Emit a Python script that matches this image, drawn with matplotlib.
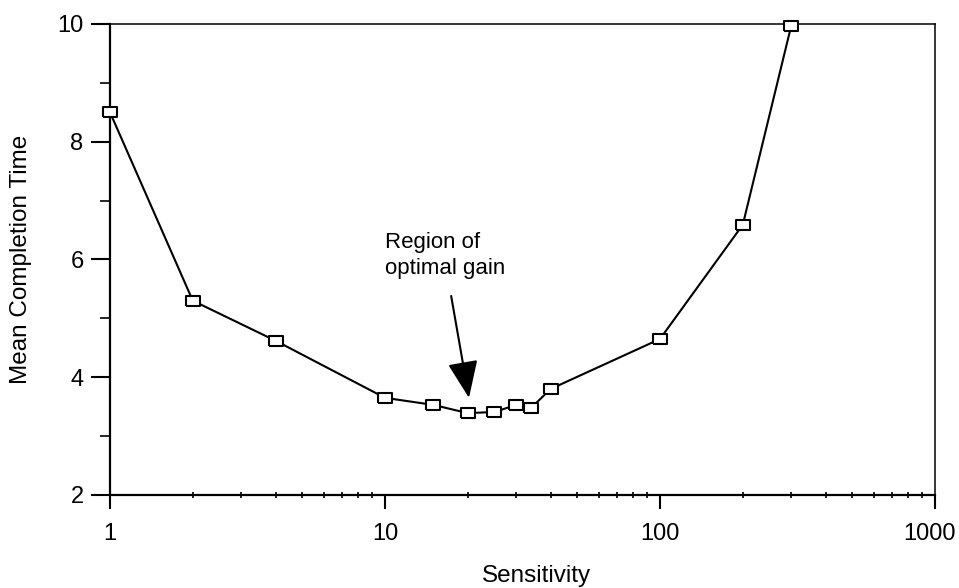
import matplotlib
matplotlib.use('Agg')
import matplotlib.pyplot as plt
from matplotlib.ticker import FixedLocator, NullFormatter
from matplotlib.transforms import ScaledTranslation

plt.rcParams['font.family'] = ['Liberation Sans', 'DejaVu Sans']

# values
sensitivity = [1, 2, 4, 10, 15, 20, 25, 30, 34, 40, 100, 200, 300]
completion_time = [8.5, 5.30, 4.62, 3.65, 3.53, 3.39, 3.41, 3.53, 3.48, 3.80, 4.65, 6.59, 9.97]
x_ticks = [1, 10, 100, 1000]
x_tick_labels = ['1', '10', '100', '1000']
y_ticks = [2, 4, 6, 8, 10]
y_minor = [3, 5, 7, 9]
note = 'Region of\noptimal gain'
arrow_tail = (17.4, 5.38)
arrow_tip = (20.2, 3.65)

fs = 16        # annotation
fs_tick = 17
fs_label = 17.5

fig = plt.figure(figsize=(9.59, 5.88), dpi=100)
ax = fig.add_axes([0.1147, 0.1582, 0.8603, 0.801])

# wide square marker
box = [(-1.3, -1), (1.3, -1), (1.3, 1), (-1.3, 1), (-1.3, -1)]
ax.plot(sensitivity, completion_time, color='black', lw=1.5,
        marker=box, ms=9.5, mfc='white', mec='black', mew=1.5, clip_on=False, zorder=3)

ax.set_xscale('log')
ax.set_xlim(1, 1000)
ax.set_ylim(2, 10)

ax.xaxis.set_major_locator(FixedLocator(x_ticks))
ax.set_xticklabels(x_tick_labels)
ax.xaxis.set_minor_formatter(NullFormatter())
ax.yaxis.set_major_locator(FixedLocator(y_ticks))
ax.yaxis.set_minor_locator(FixedLocator(y_minor))

ax.tick_params(axis='x', which='major', direction='out', length=10, width=1.5,
               pad=10, labelsize=fs_tick)
ax.tick_params(axis='x', which='minor', direction='inout', length=4, width=1.2)
ax.tick_params(axis='y', which='major', direction='out', length=14, width=1.5,
               pad=5, labelsize=fs_tick)
ax.tick_params(axis='y', which='minor', direction='out', length=7, width=1.2)

# last x label sits a little left of its tick, as in the reference
last = ax.xaxis.get_major_ticks()[-1].label1
last.set_transform(last.get_transform() + ScaledTranslation(-0.06, 0, fig.dpi_scale_trans))

for side in ['left', 'bottom']:
    ax.spines[side].set_linewidth(1.6)
for side in ['top', 'right']:
    ax.spines[side].set_linewidth(1.1)

ax.set_xlabel('Sensitivity', fontsize=fs_label)
ax.xaxis.set_label_coords(0.517, -0.148)
ax.set_ylabel('Mean Completion Time', fontsize=fs_label)
ax.yaxis.set_label_coords(-0.095, 0.5)

ax.text(10, 6.47, note, fontsize=fs, ha='left', va='top', linespacing=1.35)
ax.annotate('', xy=arrow_tip, xytext=arrow_tail,
            arrowprops=dict(arrowstyle='-|>,head_length=1.15,head_width=0.47',
                            mutation_scale=20, color='black', lw=1.5,
                            shrinkA=0, shrinkB=0))

plt.savefig('out.png', dpi=100)
